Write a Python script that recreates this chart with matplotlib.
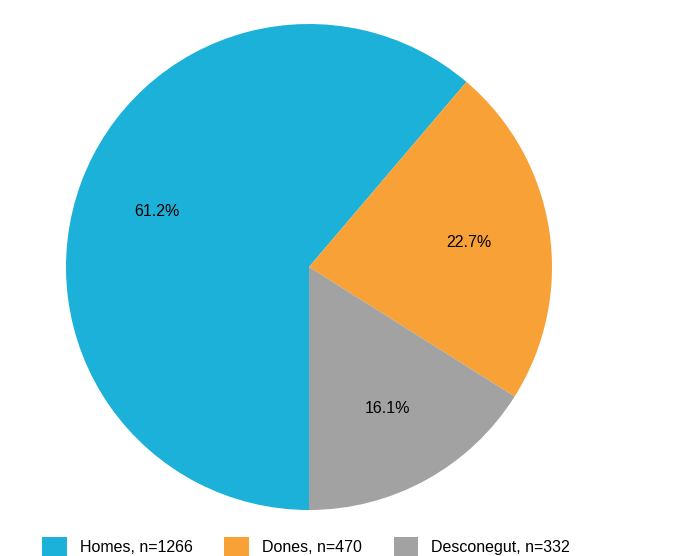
import matplotlib
matplotlib.use("Agg")
import matplotlib.pyplot as plt
from matplotlib.patches import Patch

plt.rcParams['font.family'] = ['Liberation Sans', 'DejaVu Sans']

categories = ["Homes", "Dones", "Desconegut"]
counts = [1266, 470, 332]
colors = ["#1BB1D8", "#F8A137", "#A2A2A2"]

W, H = 697, 556
fig = plt.figure(figsize=(W/100, H/100), dpi=100)
cx, cy, r = 309, 267, 243
ax = fig.add_axes([(cx - r)/W, (H - cy - r)/H, 2*r/W, 2*r/H])
ax.pie(counts, colors=colors, startangle=270, counterclock=False,
       autopct='%1.1f%%', pctdistance=0.665,
       wedgeprops=dict(linewidth=0),
       textprops=dict(fontsize=11.5, color='black'))
ax.set_xlim(-1, 1)
ax.set_ylim(-1, 1)
ax.set_aspect('equal')

handles = [Patch(facecolor=c, edgecolor='none') for c in colors]
labels = [f"{c}, n={n}" for c, n in zip(categories, counts)]
fig.legend(handles, labels, loc='upper left', ncol=3, frameon=False,
           bbox_to_anchor=(42/W, 1 - 537/H), borderpad=0, borderaxespad=0,
           fontsize=11.5, handlelength=1.55, handleheight=1.55,
           handletextpad=0.8, columnspacing=2.0)

fig.savefig("out.png", dpi=100)
